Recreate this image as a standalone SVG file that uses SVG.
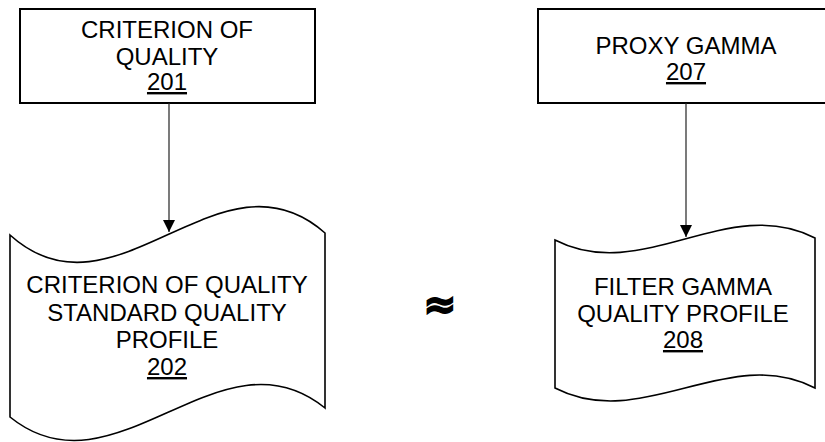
<svg xmlns="http://www.w3.org/2000/svg" width="825" height="442" viewBox="0 0 825 442">
<style>
.box{fill:#fff;stroke:#000;stroke-width:2}
.tape{fill:#fff;stroke:#000;stroke-width:1.6}
.t{font-family:"Liberation Sans",Arial,sans-serif;font-size:24px;fill:#000;text-anchor:middle}
.u{text-decoration:underline}
.conn{stroke:#222;stroke-width:1.2;fill:none}
</style>
<defs>
<marker id="ah" viewBox="0 0 12 12" refX="12" refY="6" markerWidth="12" markerHeight="12" markerUnits="userSpaceOnUse" orient="auto">
<path d="M0,0 L12,6 L0,12 Z" fill="#000"/>
</marker>
</defs>
<rect width="825" height="442" fill="#fff"/>
<g id="node-201">
<rect class="box" x="20" y="9" width="295" height="94"/>
<text class="t" x="167" y="38">CRITERION OF</text>
<text class="t" x="167" y="65">QUALITY</text>
<text class="t u" x="167" y="90">201</text>
</g>
<g id="node-207">
<rect class="box" x="538" y="9" width="295" height="94"/>
<text class="t" x="686" y="54">PROXY GAMMA</text>
<text class="t u" x="686" y="80">207</text>
</g>
<g id="node-202">
<path class="tape" d="M10,235 C115,330 220,140 325,233 L325,408 C220,323 115,502 10,417 Z"/>
<text class="t" x="167" y="293">CRITERION OF QUALITY</text>
<text class="t" x="167" y="321">STANDARD QUALITY</text>
<text class="t" x="167" y="348">PROFILE</text>
<text class="t u" x="167" y="375">202</text>
</g>
<g id="node-208">
<path class="tape" d="M555,240 C642,285 728,193 815,238 L815,388 C728,343 642,433 555,388 Z"/>
<text class="t" x="683" y="295">FILTER GAMMA</text>
<text class="t" x="683" y="322">QUALITY PROFILE</text>
<text class="t u" x="683" y="348">208</text>
</g>
<g id="approx">
<text x="440" y="318" style="font-family:'DejaVu Sans',sans-serif;font-size:40px;font-weight:bold;text-anchor:middle;stroke:#000;stroke-width:1.5">≈</text>
</g>
<g id="connectors">
<line class="conn" x1="169" y1="103" x2="169" y2="232" marker-end="url(#ah)"/>
<line class="conn" x1="686" y1="103" x2="686" y2="237" marker-end="url(#ah)"/>
</g>
</svg>
